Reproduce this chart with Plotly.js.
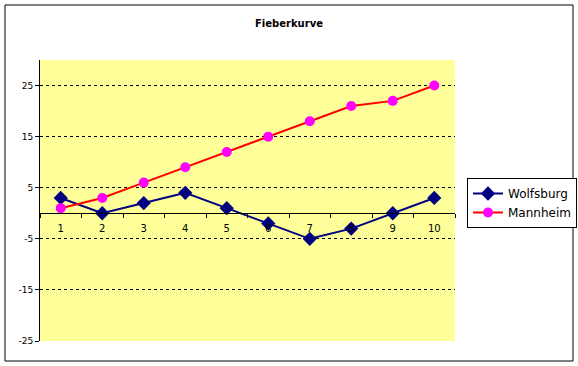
<!DOCTYPE html>
<html><head><meta charset="utf-8">
<script src="https://cdn.plot.ly/plotly-3.0.1.min.js"></script>
<style>html,body{margin:0;padding:0;background:#fff}#c{width:578px;height:366px}</style>
</head><body><div id="c"></div>
<script>
const categories = ["1","2","3","4","5","6","7","8","9","10"];
const wolfsburg = [3, 0, 2, 4, 1, -2, -5, -3, 0, 3];
const mannheim = [1, 3, 6, 9, 12, 15, 18, 21, 22, 25];
const yTicks = [-25, -15, -5, 5, 15, 25];
const gridTicks = [-15, -5, 5, 15, 25];

const yMin = -25, yMax = 30;
const font = "DejaVu Sans, Tahoma, sans-serif";

const traces = [
  {x: categories, y: wolfsburg, name: "Wolfsburg", type: "scatter", mode: "lines+markers",
   line: {color: "#000080", width: 2}, marker: {symbol: "diamond", size: 11, color: "#000080"}},
  {x: categories, y: mannheim, name: "Mannheim", type: "scatter", mode: "lines+markers",
   line: {color: "#FF0000", width: 2}, marker: {symbol: "circle", size: 10, color: "#FF00FF"}},
  {x: categories, y: mannheim, yaxis: "y2", type: "scatter", mode: "none", showlegend: false, hoverinfo: "skip"}
];

const layout = {
  width: 578, height: 366,
  margin: {l: 40, r: 123, t: 60, b: 25, autoexpand: false},
  paper_bgcolor: "#ffffff",
  plot_bgcolor: "#FFFF99",
  title: {text: "<b>Fieberkurve</b>", font: {family: font, size: 10, color: "#000"}, x: (289 - 40) / 415, xref: "paper", xanchor: "center", y: 1 - 23 / 366, yref: "container", yanchor: "middle"},
  font: {family: font, size: 9, color: "#000"},
  xaxis: {type: "category", categoryorder: "array", categoryarray: categories, range: [-0.5, 9.5],
    anchor: "free", position: (0 - yMin) / (yMax - yMin),
    showline: true, linecolor: "#000", linewidth: 1, showgrid: false, zeroline: false,
    ticks: "outside", tickson: "boundaries", ticklen: 4, tickcolor: "#000",
    ticklabelstandoff: 6, tickfont: {family: font, size: 10}, fixedrange: true},
  yaxis: {range: [yMin, yMax], tickvals: yTicks, ticktext: yTicks.map(String),
    showline: true, linecolor: "#000", linewidth: 1, showgrid: false, zeroline: false,
    ticks: "outside", ticklen: 4, tickcolor: "#000", tickfont: {family: font, size: 9}},
  yaxis2: {range: [yMin, yMax], overlaying: "y", tickvals: gridTicks, showticklabels: false,
    showgrid: true, gridcolor: "#000", gridwidth: 1, griddash: "3px,3px", zeroline: false, showline: false, ticks: ""},
  legend: {x: (467 - 40) / 415, y: (341 - 178) / 281, xanchor: "left", yanchor: "top",
    bgcolor: "#fff", bordercolor: "#000", borderwidth: 1, font: {family: font, size: 12},
    tracegroupgap: 0, itemwidth: 30},
  showlegend: true,
  shapes: [{type: "rect", xref: "paper", yref: "paper",
    x0: (5 - 40) / 415, x1: (573 - 40) / 415, y0: (341 - 361) / 281, y1: (341 - 5) / 281,
    line: {color: "#000", width: 1}, fillcolor: "rgba(0,0,0,0)", layer: "below"}]
};
Plotly.newPlot("c", traces, layout, {displayModeBar: false, staticPlot: true});
</script></body></html>
